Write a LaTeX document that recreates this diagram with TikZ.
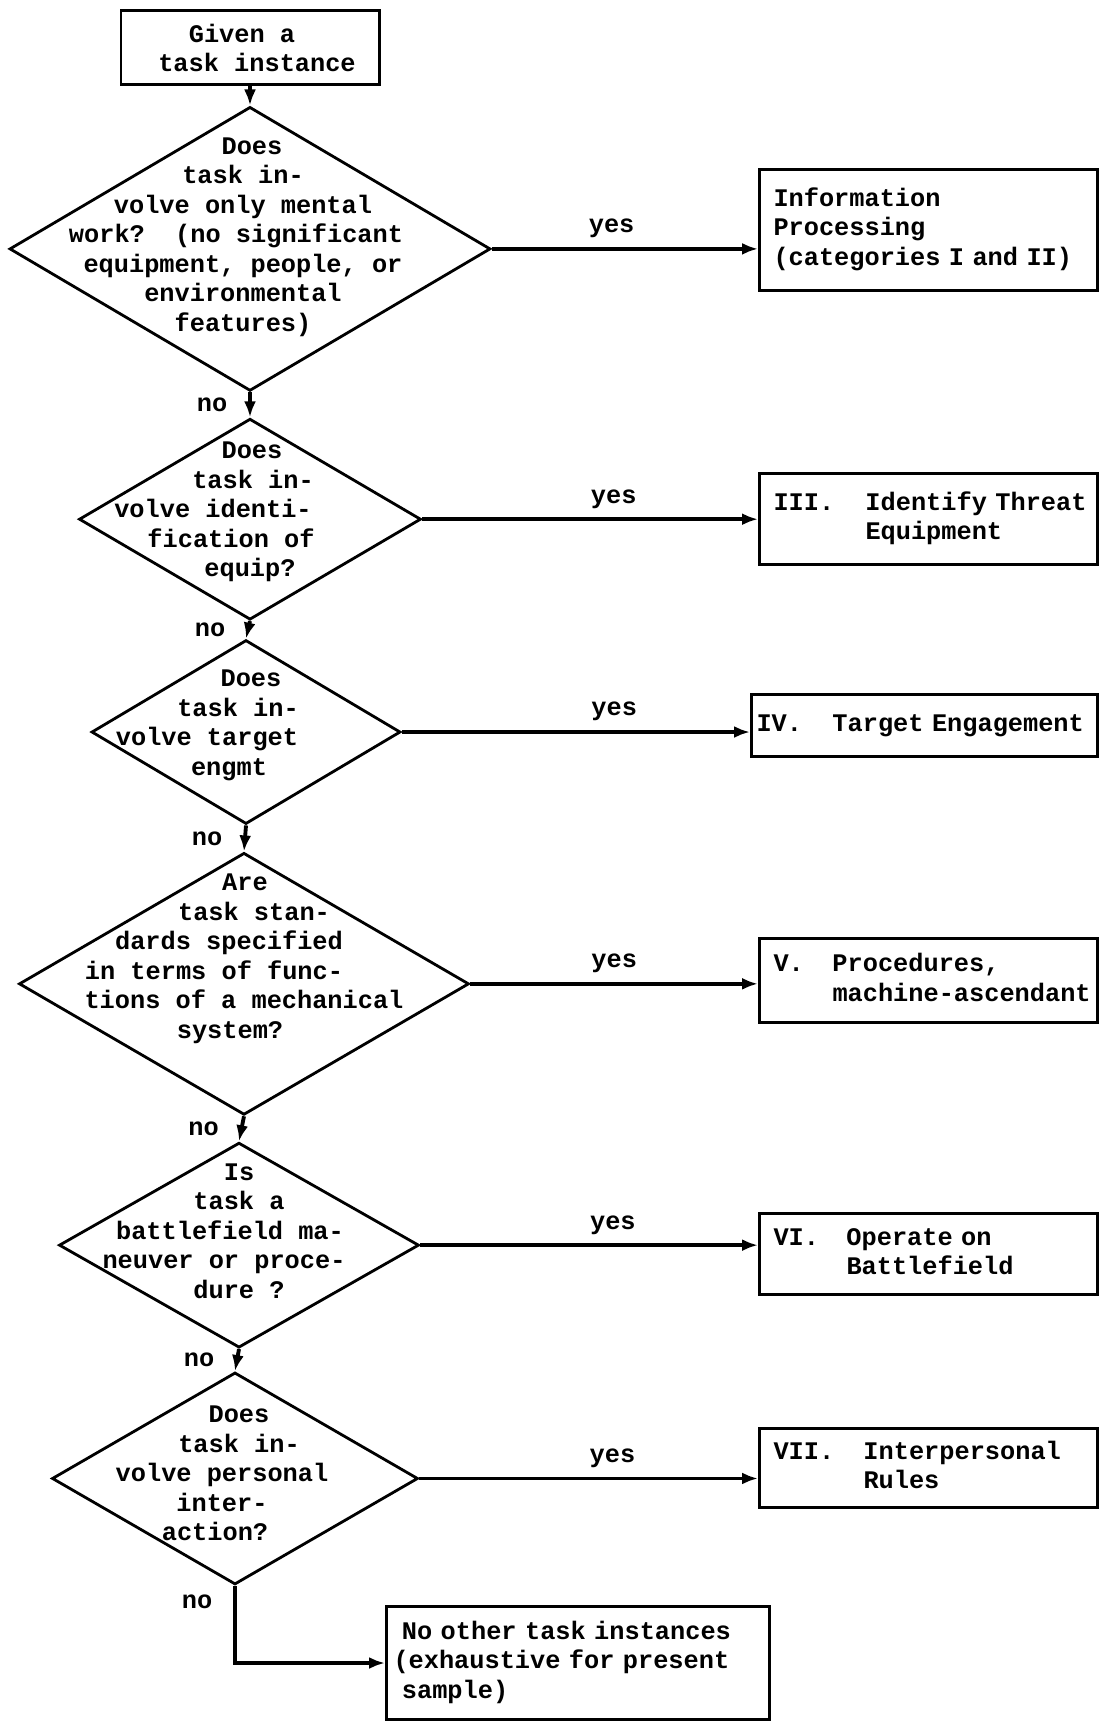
\documentclass[tikz,border=0pt]{standalone}
\usepackage{fontspec}
\setmainfont{Liberation Mono}
\usepackage{tikz}
\usetikzlibrary{arrows.meta,positioning,shapes.geometric}
\frenchspacing

% typed lines are centred by hand, so each may sit a little off
\newcommand{\nudge}[2]{\hspace*{#1}#2\hspace*{-#1}\null}

\begin{document}
\begin{tikzpicture}[
    node distance=0.5cm,
    >={Latex[length=3.2mm,width=2.4mm]},
    font=\bfseries\fontsize{14.4}{16.8}\selectfont,
    entry/.style={
		rectangle,
		draw=black,
		line width=1.7pt,
		align=center,
		minimum width=5.16cm,
		minimum height=1.48cm
	},
	decision/.style={
		diamond,
		draw=black,
		line width=1.6pt,
		inner sep=0pt
	},
	query/.style={
		align=center,
		inner sep=0pt
	},
	category/.style={
		rectangle,
		draw=black,
		line width=1.7pt,
		anchor=north west,
		inner xsep=0.28cm,
		inner ysep=0pt,
		text width=6.2cm,
		align=left
	},
	flow/.style={
		->,
		line width=2.2pt
	}
  ]

 \useasboundingbox (0,0) rectangle (21.98,-34.42);

 \node [entry] (given) at (5.0,-0.96) {\nudge{-0.16cm}{Given a}\\\nudge{0.14cm}{task instance}};

% // the questions, top to bottom
 \node [decision, below=0.38cm of given, minimum width=9.62cm, minimum height=5.68cm] (ask1) {};
 \node [decision, below=0.5cm of ask1, minimum width=6.84cm, minimum height=4.02cm] (ask2) {};
 \node [decision, below=0.35cm of ask2, xshift=-0.08cm, minimum width=6.18cm, minimum height=3.68cm] (ask3) {};
 \node [decision, below=0.52cm of ask3, xshift=-0.04cm, minimum width=9cm, minimum height=5.24cm] (ask4) {};
 \node [decision, below=0.5cm of ask4, xshift=-0.1cm, minimum width=7.2cm, minimum height=4.1cm] (ask5) {};
 \node [decision, below=0.44cm of ask5, xshift=-0.08cm, minimum width=7.32cm, minimum height=4.24cm] (ask6) {};

 \node [query, xshift=-0.14cm, yshift=0.24cm] (q1) at (ask1)
 {\nudge{0.18cm}{Does}\\task in-\\volve only mental\\\nudge{-0.14cm}{work?\ \ (no significant}\\equipment, people, or\\environmental\\features)};
 \node [query, xshift=-0.2cm, yshift=0.14cm] (q2) at (ask2)
 {\nudge{0.24cm}{Does}\\\nudge{0.26cm}{task in-}\\\nudge{-0.54cm}{volve identi-}\\\nudge{-0.18cm}{fication of}\\\nudge{0.2cm}{equip?}};
 \node [query, xshift=-0.34cm, yshift=0.13cm] (q3) at (ask3)
 {\nudge{0.44cm}{Does}\\\nudge{0.18cm}{task in-}\\\nudge{-0.44cm}{volve target}\\engmt};
 \node [query, xshift=-0.14cm, yshift=0.5cm] (q4) at (ask4)
 {\nudge{0.16cm}{Are}\\\nudge{0.34cm}{task stan-}\\\nudge{-0.16cm}{dards specified}\\\nudge{-0.46cm}{in terms of func-}\\\nudge{0.14cm}{tions of a mechanical}\\\nudge{-0.14cm}{system?}};
 \node [query, yshift=0.28cm] (q5) at (ask5)
 {Is\\task a\\\nudge{-0.18cm}{battlefield ma-}\\\nudge{-0.3cm}{neuver or proce-}\\dure ?};
 \node [query, xshift=-0.26cm, yshift=0.1cm] (q6) at (ask6)
 {\nudge{0.34cm}{Does}\\\nudge{0.34cm}{task in-}\\volve personal\\inter-\\\nudge{-0.14cm}{action?}};

% // the categories
 \node [category, minimum height=2.42cm] (cat1) at (15.16,-3.36)
 {%
 \begin{tabular}{@{}l@{}}
  Information\\
  Processing\\
  (categories I and II)
 \end{tabular}
 };
 \node [category, minimum height=1.82cm] (cat2) at (15.16,-9.44)
 {%
 \begin{tabular}{@{}p{1.84cm}@{}l@{}}
  III. & Identify Threat\\
       & Equipment
 \end{tabular}
 };
 \node [category, minimum height=1.24cm, inner xsep=0.1cm, text width=6.72cm] (cat3) at (15.0,-13.86)
 {%
 \begin{tabular}{@{}p{1.52cm}@{}l@{}}
  IV. & Target Engagement
 \end{tabular}
 };
 \node [category, minimum height=1.68cm] (cat4) at (15.16,-18.74)
 {%
 \begin{tabular}{@{}p{1.18cm}@{}l@{}}
  V. & Procedures,\\
     & machine-ascendant
 \end{tabular}
 };
 \node [category, minimum height=1.62cm] (cat5) at (15.16,-24.24)
 {%
 \begin{tabular}{@{}p{1.46cm}@{}l@{}}
  VI. & Operate on\\
      & Battlefield
 \end{tabular}
 };
 \node [category, minimum height=1.58cm] (cat6) at (15.16,-28.54)
 {%
 \begin{tabular}{@{}p{1.8cm}@{}l@{}}
  VII. & Interpersonal\\
       & Rules
 \end{tabular}
 };
 \node [category, minimum height=2.26cm, inner xsep=0.14cm, text width=7.38cm] (cat7) at (7.70,-32.10)
 {%
 \begin{tabular}{@{}l@{}}
  ~No other task instances\\
  (exhaustive for present\\
  ~sample)
 \end{tabular}
 };

% // no: go down to the next question
 \draw [flow] (given) -- (ask1.north);
 \draw [flow] (ask1.south) -- node [left=0.3cm] {no} (ask2.north);
 \draw [flow] (ask2.south) -- node [left=0.3cm] {no} (ask3.north);
 \draw [flow] (ask3.south) -- node [left=0.3cm] {no} (ask4.north);
 \draw [flow] (ask4.south) -- node [left=0.3cm] {no} (ask5.north);
 \draw [flow] (ask5.south) -- node [left=0.3cm] {no} (ask6.north);
 \draw [flow] (ask6.south) |- node [left=0.3cm, pos=0.1] {no} (cat7.west);

% // yes: go across to the category
 \draw [flow] (ask1.east) -- node [above=0.06cm, pos=0.45] {yes} (ask1.east -| cat1.west);
 \draw [flow] (ask2.east) -- node [above=0.06cm, pos=0.57] {yes} (ask2.east -| cat2.west);
 \draw [flow] (ask3.east) -- node [above=0.06cm, pos=0.61] {yes} (ask3.east -| cat3.west);
 \draw [flow] (ask4.east) -- node [above=0.06cm, pos=0.5] {yes} (ask4.east -| cat4.west);
 \draw [flow] (ask5.east) -- node [above=0.06cm, pos=0.57] {yes} (ask5.east -| cat5.west);
 \draw [flow] (ask6.east) -- node [above=0.06cm, pos=0.57] {yes} (ask6.east -| cat6.west);

\end{tikzpicture}
\end{document}
